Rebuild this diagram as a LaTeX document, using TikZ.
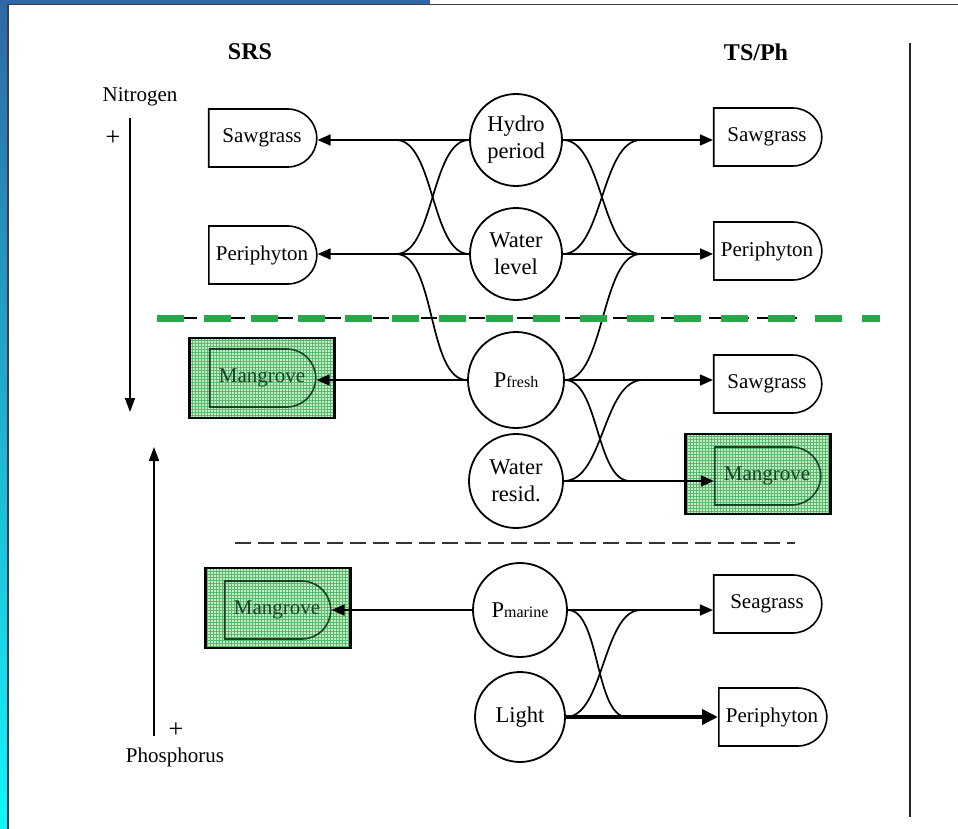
\documentclass[tikz,border=0pt]{standalone}
\usepackage{fontspec}
\setmainfont{Liberation Serif}
\usetikzlibrary{arrows.meta, shapes.misc, patterns}

\definecolor{slideblue}{RGB}{46,104,168}
\definecolor{slidecyan}{RGB}{18,246,254}
\definecolor{zonegreen}{RGB}{40,168,75}
\definecolor{mangfill}{RGB}{195,238,200}
\definecolor{manggrid}{RGB}{90,185,110}
\definecolor{mangtext}{RGB}{25,65,38}

\begin{document}
\begin{tikzpicture}[x=1pt,y=-1pt,
    font=\fontsize{21}{26}\selectfont,
    factor/.style={circle,draw,line width=1.8pt,minimum size=92pt,inner sep=0pt,align=center,
      font=\fontsize{22.5}{27}\selectfont},
    biota/.style={rounded rectangle,rounded rectangle west arc=none,draw,line width=1.6pt,
      minimum width=112pt,minimum height=58pt,inner sep=2pt},
    mangbox/.style={draw,line width=2.2pt,preaction={fill=mangfill},pattern=grid,
      pattern color=manggrid,minimum width=145pt,minimum height=80pt},
    mang/.style={biota,draw=mangtext,text=mangtext,minimum width=110pt},
    link/.style={line width=1.7pt},
    feed/.style={line width=1.7pt,-{Triangle[length=13pt,width=11pt]}},
    axisarrow/.style={line width=1.6pt,-{Triangle[length=14pt,width=10pt]}}]
    \useasboundingbox (0,0) rectangle (958,829);
    % Slide frame
    \shade[top color=slideblue,bottom color=slidecyan] (0,0) rectangle (8,829);
    \fill[slideblue] (0,0) rectangle (430,4.5);
    \draw[line width=1.2pt,black!75] (8,829) -- (8,4.5) -- (958,4.5);
    \draw[line width=1.6pt,black!85] (910,43) -- (910,817);

    % Headings and gradients
    \node[font=\bfseries\fontsize{24}{28}\selectfont] (srs) at (250,52) {SRS};
    \node[font=\bfseries\fontsize{24}{28}\selectfont] (tsph) at (756,52) {TS/Ph};
    \node (nitro) at (140,97) {Nitrogen};
    \node[font=\fontsize{26}{28}\selectfont] (nplus) at (113,138) {+};
    \node[font=\fontsize{26}{28}\selectfont] (pplus) at (176,730) {+};
    \node (phos) at (175,757) {Phosphorus};
    \coordinate (ntop) at (130,118);
    \coordinate (nend) at (130,412);
    \coordinate (pbot) at (154,736);
    \coordinate (pend) at (154,447);
    \draw[axisarrow] (ntop) -- (nend);
    \draw[axisarrow] (pbot) -- (pend);

    % Drivers
    \node[factor] (hydro) at (516,140) {Hydro\\period};
    \node[factor] (wlevel) at (516,254) {Water\\level};
    \node[factor,minimum size=96pt] (pfresh) at (516,380) {P{\fontsize{16}{16}\selectfont fresh}};
    \node[factor,minimum size=94pt] (wresid) at (516,481) {Water\\resid.};
    \node[factor,minimum size=94pt] (pmarine) at (520,610) {P{\fontsize{16}{16}\selectfont marine}};
    \node[factor,minimum size=90pt] (light) at (520,717) {Light};

    % SRS responses
    \node[biota] (sawL) at (262,138) {Sawgrass};
    \node[biota] (periL) at (262,255) {Periphyton};
    \node[mangbox] (mangLbox) at (262,378) {};
    \node[mang] (mangL) at (262,378) {Mangrove};
    \node[mangbox] (mangL2box) at (278,608) {};
    \node[mang] (mangL2) at (277,610) {Mangrove};

    % TS/Ph responses
    \node[biota] (sawR) at (767,137) {Sawgrass};
    \node[biota] (periR) at (767,251) {Periphyton};
    \node[biota] (sawR2) at (767,384) {Sawgrass};
    \node[mangbox] (mangRbox) at (758,474) {};
    \node[mang] (mangR) at (767,476) {Mangrove};
    \node[biota] (seaR) at (767,604) {Seagrass};
    \node[biota] (periR3) at (772,717) {Periphyton};

    % Junctions
    \coordinate (jL1) at ([xshift=-73pt]hydro.west);
    \coordinate (jL2) at ([xshift=-73pt]wlevel.west);
    \coordinate (jR1) at ([xshift=78pt]hydro.east);
    \coordinate (jR2) at ([xshift=78pt]wlevel.east);
    \coordinate (jR3) at ([xshift=78pt]pfresh.east);
    \coordinate (jR4) at ([xshift=66pt]wresid.east);
    \coordinate (jR5) at ([xshift=73pt]pmarine.east);
    \coordinate (jR6) at ([xshift=61pt]light.east);

    % Straight links
    \draw[feed] (hydro.west) -- (hydro.west -| sawL.east);
    \draw[feed] (wlevel.west) -- (wlevel.west -| periL.east);
    \draw[feed] (hydro.east) -- (hydro.east -| sawR.west);
    \draw[feed] (wlevel.east) -- (wlevel.east -| periR.west);
    \draw[feed] (pfresh.west) -- (pfresh.west -| mangL.east);
    \draw[feed] (pfresh.east) -- (pfresh.east -| sawR2.west);
    \draw[feed] (wresid.east) -- (wresid.east -| mangR.west);
    \draw[feed] (pmarine.west) -- (pmarine.west -| mangL2.east);
    \draw[feed] (pmarine.east) -- (pmarine.east -| seaR.west);
    \draw[line width=4pt,-{Triangle[length=16pt,width=15pt]}] (light.east) -- (light.east -| periR3.west);

    % Crossing links
    \draw[link] (hydro.west) .. controls +(-38,0) and +(38,0) .. (jL2);
    \draw[link] (wlevel.west) .. controls +(-38,0) and +(38,0) .. (jL1);
    \draw[link] (pfresh.west) .. controls +(-40,0) and +(40,0) .. (jL2);
    \draw[link] (hydro.east) .. controls +(40,0) and +(-40,0) .. (jR2);
    \draw[link] (wlevel.east) .. controls +(40,0) and +(-40,0) .. (jR1);
    \draw[link] (pfresh.east) .. controls +(40,0) and +(-40,0) .. (jR2);
    \draw[link] (pfresh.east) .. controls +(34,0) and +(-34,0) .. (jR4);
    \draw[link] (wresid.east) .. controls +(40,0) and +(-40,0) .. (jR3);
    \draw[link] (pmarine.east) .. controls +(32,0) and +(-32,0) .. (jR6);
    \draw[link] (light.east) .. controls +(38,0) and +(-38,0) .. (jR5);

    % Zone boundaries
    \draw[line width=1.4pt,dash pattern=on 16pt off 8pt] (157,318) -- (803,318);
    \draw[zonegreen,line width=7pt,dash pattern=on 27pt off 20pt] (157,318) -- (880,318);
    \draw[line width=1.5pt,black!80,dash pattern=on 16pt off 7pt] (235,543) -- (795,543);
\end{tikzpicture}
\end{document}
